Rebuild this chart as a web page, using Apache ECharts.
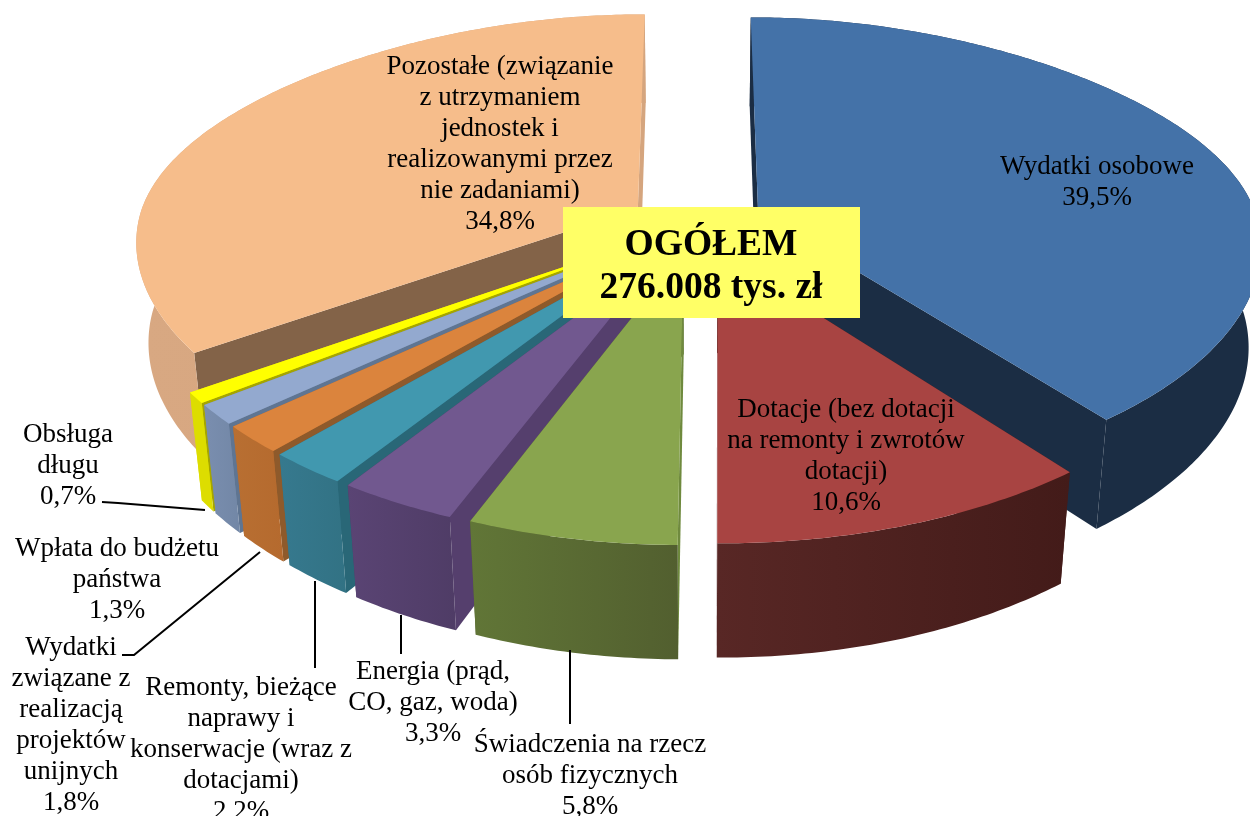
<!DOCTYPE html>
<html><head><meta charset="utf-8">
<style>html,body{margin:0;padding:0;background:#fff}#c{width:1250px;height:816px}</style>
<script src="https://cdn.jsdelivr.net/npm/echarts@6/dist/echarts.min.js"></script>
</head><body><div id="c"></div>
<script>
const categories = [
 "Wydatki osobowe",
 "Dotacje (bez dotacji\nna remonty i zwrotów\ndotacji)",
 "Świadczenia na rzecz\nosób fizycznych",
 "Energia (prąd,\nCO, gaz, woda)",
 "Remonty, bieżące\nnaprawy i\nkonserwacje (wraz z\ndotacjami)",
 "Wydatki\nzwiązane z\nrealizacją\nprojektów\nunijnych",
 "Wpłata do budżetu\npaństwa",
 "Obsługa\ndługu",
 "Pozostałe (związanie\nz utrzymaniem\njednostek i\nrealizowanymi przez\nnie zadaniami)"
];
const values = [39.5,10.6,5.8,3.3,2.2,1.8,1.3,0.7,34.8];
const totalLines = ["OGÓŁEM","276.008 tys. zł"];

const topColors  = ["#4472a8","#a84442","#89a54e","#71588f","#4198af","#db843d","#93a9cf","#ffff00","#f6bd8b"];
const rimColorsA = ["#1b2d44","#582725","#617637","#5a4474","#36798e","#b86f32","#7a8eaf","#dddd00","#d8a882"];
const rimColorsB = ["#1b2d44","#431b19","#525f2f","#4f3c66","#327284","#b56a2e","#7287a6","#dddd00","#d5a57e"];
const wallColors = ["#1b2d44","#451d1b","#6f8a3e","#553f6d","#296777","#8e5a2b","#5f7592","#a5a500","#836348"];

const labelPos = [[1097,182],[846,456],[590,776],[433,703],[241,750],[71,725],[117,580],[68,466],[500,144]];
const leaders = [
 [[102,502],[118,503],[205,510]],
 [[122,655],[134,655],[260,552]],
 [[315,581],[315,668]],
 [[401,615],[401,654]],
 [[570,650],[570,724]]
];

const G = {cx:696, cy:222, R:500, tilt:0.462, k:0.17, kx:0.135, kxBack:0.24, e:66, h:102, m:0.022};
const total = values.reduce((a,b)=>a+b,0);
let acc = 0;
const seriesData = values.map((v,i)=>{const s=acc; acc+=v; return [v,s,i];});

function proj(aX,rX,Y,down){
  const d = down?G.m:0;
  const sa = 1/(1 - G.kx*Y/G.R + d);
  const back = Math.max(0,Math.min(1,-Y/G.R));
  const sr = 1/(1 - (G.kx+(G.kxBack-G.kx)*back)*Y/G.R + d);
  const sy = 1/(1 - G.k*Y/G.R + d);
  return [G.cx + aX*sa + rX*sr, G.cy + (G.tilt*Y + (down?G.h:0))*sy];
}
function renderItem(params, api){
  const v=api.value(0), st=api.value(1), i=api.value(2);
  const t0=st/total*2*Math.PI, t1=(st+v)/total*2*Math.PI, tm=(t0+t1)/2;
  const ax=G.e*Math.sin(tm), ay=-G.e*Math.cos(tm);
  const pt=(t,down)=>proj(ax,G.R*Math.sin(t), ay-G.R*Math.cos(t), down);
  const rank=Math.round((-Math.cos(tm)+1)*1000);
  const n=Math.max(2,Math.ceil((t1-t0)/0.012));
  const arc=[], arcB=[];
  for(let j=0;j<=n;j++){const t=t0+(t1-t0)*j/n; arc.push(pt(t,false)); arcB.push(pt(t,true));}
  const aT=proj(ax,0,ay,false), aB=proj(ax,0,ay,true);
  const wall=(t,z,fill)=>({type:'polygon',z2:rank+z,shape:{points:[aT,pt(t,false),pt(t,true),aB]},style:{fill}});
  const frontIsStart = Math.sin(tm) < 0;
  const children=[
    wall(frontIsStart?t1:t0,0,rimColorsB[i]),
    wall(frontIsStart?t0:t1,1,wallColors[i]),
    {type:'polygon',z2:rank+2,shape:{points:arc.concat(arcB.slice().reverse())},
     style:{fill:new echarts.graphic.LinearGradient(0,0,1,0,[{offset:0,color:rimColorsA[i]},{offset:1,color:rimColorsB[i]}])}},
    {type:'polygon',z2:rank+3,shape:{points:[aT].concat(arc)},style:{fill:topColors[i]}}
  ];
  return {type:'group',children};
}

const texts = categories.map((c,i)=>({
  type:'text',z:20,x:labelPos[i][0],y:labelPos[i][1],
  style:{text:c+"\n"+values[i].toFixed(1).replace('.',',')+"%",font:"27px 'Liberation Serif'",fill:"#000",
    align:'center',verticalAlign:'middle',lineHeight:31}
}));
const lines = leaders.map(p=>({type:'polyline',z:19,shape:{points:p},style:{stroke:'#000',lineWidth:2,fill:null}}));
const box = {type:'rect',z:21,shape:{x:563,y:207,width:297,height:111},style:{fill:'#ffff66'}};
const boxText = {type:'text',z:22,x:711,y:267,style:{text:totalLines.join("\n"),font:"bold 37.5px 'Liberation Serif'",fill:'#000',align:'center',verticalAlign:'middle',lineHeight:43}};

const chart=echarts.init(document.getElementById('c'),null,{renderer:'canvas'});
chart.setOption({
  animation:false,backgroundColor:'#fff',
  series:[{type:'custom',coordinateSystem:'none',renderItem,data:seriesData,clip:false,silent:true}],
  graphic:{elements:lines.concat(texts,[box,boxText])}
});
</script></body></html>
